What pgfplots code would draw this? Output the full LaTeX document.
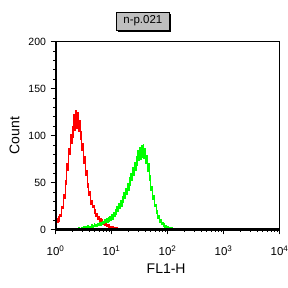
\documentclass[border=0pt]{standalone}
\usepackage{fontspec}
\setmainfont{Liberation Sans}
\usepackage{pgfplots}
\pgfplotsset{compat=1.18}
\usepackage{pgfplotstable}
\usetikzlibrary{shadows}

\pgfplotstableread{
k y
0 47
1 12
2 8
3 14
4 9
5 16
6 14
7 24
8 22
9 37
10 33
11 52
12 48
13 70
14 63
15 86
16 80
17 101
18 92
19 110
20 98
21 122
22 105
23 127
24 108
25 125
26 104
27 116
28 96
29 104
30 84
31 92
32 70
33 78
34 58
35 63
36 45
37 49
38 36
39 40
40 27
41 31
42 23
43 26
44 17
45 21
46 14
47 17
48 11
49 14
50 9
51 12
52 7
53 11
54 5
55 8
56 4
57 7
58 3
59 5
60 2
61 5
62 1
63 3
64 1
65 3
66 0
67 2
68 0
69 1
70 2
71 0
72 1
73 0
74 1
75 0
76 0
77 1
78 0
79 0
80 1
81 0
85 0
86 1
87 0
95 0
96 1
97 0
110 0
111 1
112 0
140 0
}\redtab

\pgfplotstableread{
k y
24 1
25 0
26 2
27 0
28 1
29 0
30 2
31 0
32 3
33 1
34 3
35 1
36 2
37 4
38 1
39 3
40 2
41 5
42 2
43 4
44 6
45 3
46 5
47 3
48 6
49 4
50 7
51 4
52 8
53 5
54 9
55 6
56 11
57 7
58 12
59 8
60 13
61 9
62 14
63 10
64 16
65 11
66 18
67 14
68 21
69 16
70 24
71 19
72 28
73 22
74 31
75 25
76 35
77 29
78 39
79 33
80 44
81 37
82 49
83 42
84 55
85 47
86 60
87 52
88 66
89 58
90 71
91 63
92 78
93 68
94 84
95 73
96 87
97 75
98 89
99 77
100 90
101 76
102 86
103 70
104 79
105 62
106 70
107 52
108 58
109 42
110 46
111 32
112 36
113 24
114 27
115 17
116 20
117 12
118 15
119 8
120 11
121 5
122 8
123 3
124 6
125 2
126 4
127 1
128 3
129 0
130 2
131 1
132 0
133 2
134 0
135 1
136 0
139 0
140 1
141 0
145 0
146 1
147 0
160 0
}\greentab

\begin{document}
\begin{tikzpicture}
\useasboundingbox (0,0) rectangle (288bp,288bp);
\begin{axis}[
  at={(55.5bp,58.5bp)}, anchor=south west,
  scale only axis,
  width=224bp, height=188bp,
  xmode=log, log basis x=10,
  xmin=1, xmax=10000, ymin=0, ymax=200,
  xtick={1,10,100,1000,10000},
  xticklabels={10\textsuperscript{0},10\textsuperscript{1},10\textsuperscript{2},10\textsuperscript{3},10\textsuperscript{4}},
  minor xtick={2,3,4,5,6,7,8,9,20,30,40,50,60,70,80,90,200,300,400,500,600,700,800,900,2000,3000,4000,5000,6000,7000,8000,9000},
  ytick={0,50,100,150,200},
  minor ytick={10,20,30,40,60,70,80,90,110,120,130,140,160,170,180,190},
  tick align=outside,
  xtick pos=left, ytick pos=left,
  major tick length=5bp, minor tick length=2.5bp,
  tick style={black, line width=0.6pt},
  axis line style={black, line width=1pt},
  /pgf/number format/assume math mode=true,
  tick label style={font=\fontsize{10.5bp}{12bp}\selectfont, text=black},
  yticklabel style={xshift=-1bp},
  xticklabel style={yshift=-8bp, font=\fontsize{11.5bp}{13bp}\selectfont},
  xlabel={FL1-H}, ylabel={Count},
  label style={font=\fontsize{14bp}{16bp}\selectfont},
  xlabel style={at={(axis description cs:0.494,-0.21)}, anchor=center},
  ylabel style={at={(axis description cs:-0.183,0.5)}, anchor=center, rotate=0},
  clip=false,
]
\addplot[red, const plot, line width=0.9pt] table[x expr={10^(\thisrow{k}/64)}, y=y] {\redtab};
\addplot[green, const plot, line width=0.9pt] table[x expr={10^(\thisrow{k}/64)}, y=y] {\greentab};
\draw[black, line width=2bp] (rel axis cs:0,1) -- (rel axis cs:0,0) -- (rel axis cs:1,0);
\node[draw=black, fill=gray!50, line width=0.6pt, minimum width=53bp, minimum height=18bp, inner sep=0pt,
  font=\fontsize{11.5bp}{12bp}\selectfont,
  drop shadow={shadow xshift=2bp, shadow yshift=-2bp, fill=black, opacity=1}]
  at (rel axis cs:0.39,1.109) {n-p.021};
\end{axis}
\end{tikzpicture}
\end{document}
